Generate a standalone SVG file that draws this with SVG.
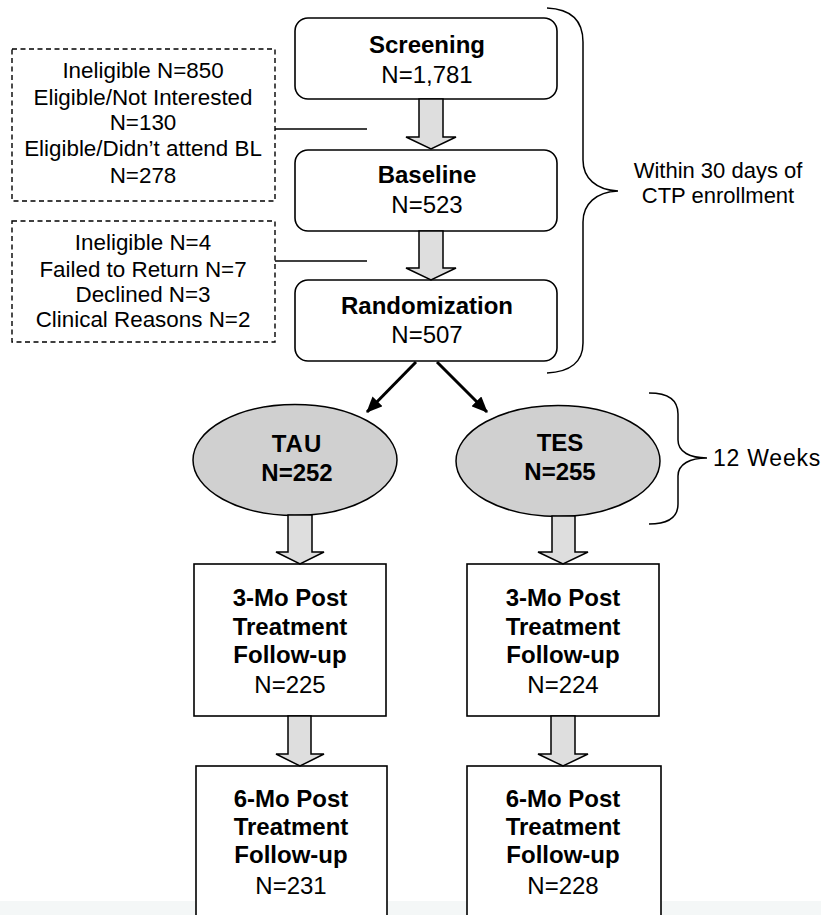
<svg xmlns="http://www.w3.org/2000/svg" width="821" height="915" viewBox="0 0 821 915">
<style>
.t{font-family:"Liberation Sans",Arial,sans-serif;fill:#000;text-anchor:middle}
.s{font-size:22.4px}
.n{font-size:24px}
.b{font-size:24px;font-weight:bold}
.box{fill:#fff;stroke:#000;stroke-width:1.6}
.dash{fill:#fff;stroke:#000;stroke-width:1.4;stroke-dasharray:5,3.5}
.ell{fill:#d0d0d0;stroke:#000;stroke-width:1.5}
.blk{fill:#dedede;stroke:#000;stroke-width:1.5;stroke-linejoin:miter}
.ln{fill:none;stroke:#000;stroke-width:1.5}
.arr{fill:none;stroke:#000;stroke-width:3}
</style>
<defs>
<marker id="ah" markerWidth="16" markerHeight="14" refX="15" refY="7" orient="auto" markerUnits="userSpaceOnUse">
<path d="M0,0 L16,7 L0,14 Z" fill="#000"/>
</marker>
</defs>
<rect x="0" y="0" width="821" height="915" fill="#fff"/>
<rect x="0" y="901" width="821" height="14" fill="#f4f7f7"/>

<g id="excl1">
<rect class="dash" x="12" y="49" width="263" height="152"/>
<text class="t s" x="143" y="78">Ineligible N=850</text>
<text class="t s" x="143" y="105">Eligible/Not Interested</text>
<text class="t s" x="143" y="130">N=130</text>
<text class="t s" x="143" y="156">Eligible/Didn’t attend BL</text>
<text class="t s" x="143" y="183">N=278</text>
</g>
<g id="excl2">
<rect class="dash" x="12" y="221" width="263" height="121"/>
<text class="t s" x="143" y="250">Ineligible N=4</text>
<text class="t s" x="143" y="277">Failed to Return N=7</text>
<text class="t s" x="143" y="302">Declined N=3</text>
<text class="t s" x="143" y="327">Clinical Reasons N=2</text>
</g>

<g id="screening">
<rect class="box" x="295" y="18" width="262" height="81" rx="13"/>
<text class="t b" x="427" y="53">Screening</text>
<text class="t n" x="427" y="83">N=1,781</text>
</g>
<g id="baseline">
<rect class="box" x="295" y="150" width="262" height="81" rx="13"/>
<text class="t b" x="427" y="183">Baseline</text>
<text class="t n" x="427" y="213">N=523</text>
</g>
<g id="randomization">
<rect class="box" x="295" y="280" width="262" height="81" rx="13"/>
<text class="t b" x="427" y="314">Randomization</text>
<text class="t n" x="427" y="343">N=507</text>
</g>

<g id="brace30">
<path class="ln" d="M547,8 C570,9 583,20 583,42 L583,160 C583,178 596,190 618,191 C596,192 583,204 583,222 L583,343 C583,362 570,372 547,373"/>
<text class="t" style="font-size:22px" x="718" y="178">Within 30 days of</text>
<text class="t" style="font-size:22px" x="718" y="203">CTP enrollment</text>
</g>

<g id="tau">
<ellipse class="ell" cx="295" cy="460" rx="102" ry="55.5"/>
<text class="t b" x="297" y="452" letter-spacing="1">TAU</text>
<text class="t b" x="297" y="481">N=252</text>
</g>
<g id="tes">
<ellipse class="ell" cx="558" cy="461" rx="102" ry="55.5"/>
<text class="t b" x="560" y="451">TES</text>
<text class="t b" x="560" y="480">N=255</text>
</g>

<g id="brace12">
<path class="ln" d="M649,393 C668,393 678,400 678,414 L678,440 C678,452 690,458 707,458 C690,458 678,464 678,476 L678,504 C678,517 668,524 649,524"/>
<text class="t" style="font-size:23px" letter-spacing="0.8" x="767" y="466">12 Weeks</text>
</g>

<g id="tau3">
<rect class="box" x="194" y="564" width="192" height="152"/>
<text class="t b" x="290" y="606">3-Mo Post</text>
<text class="t b" x="290" y="635">Treatment</text>
<text class="t b" x="290" y="663">Follow-up</text>
<text class="t n" x="290" y="693">N=225</text>
</g>
<g id="tes3">
<rect class="box" x="467" y="564" width="192" height="152"/>
<text class="t b" x="563" y="606">3-Mo Post</text>
<text class="t b" x="563" y="635">Treatment</text>
<text class="t b" x="563" y="663">Follow-up</text>
<text class="t n" x="563" y="693">N=224</text>
</g>
<g id="tau6">
<rect class="box" x="196" y="766" width="191" height="200"/>
<text class="t b" x="291" y="807">6-Mo Post</text>
<text class="t b" x="291" y="835">Treatment</text>
<text class="t b" x="291" y="863">Follow-up</text>
<text class="t n" x="291" y="894">N=231</text>
</g>
<g id="tes6">
<rect class="box" x="467" y="766" width="194" height="200"/>
<text class="t b" x="563" y="807">6-Mo Post</text>
<text class="t b" x="563" y="835">Treatment</text>
<text class="t b" x="563" y="863">Follow-up</text>
<text class="t n" x="563" y="894">N=228</text>
</g>

<g id="connectors">
<line class="ln" x1="275" y1="129" x2="367" y2="129"/>
<line class="ln" x1="275" y1="261" x2="367" y2="261"/>
<path class="blk" d="M419,99 L443,99 L443,137 L456,137 L431,149 L406,137 L419,137 Z"/>
<path class="blk" d="M419,231 L443,231 L443,268 L456,268 L431,280 L406,268 L419,268 Z"/>
<line class="arr" x1="416" y1="362" x2="367" y2="412" marker-end="url(#ah)"/>
<line class="arr" x1="437" y1="362" x2="487" y2="412" marker-end="url(#ah)"/>
<path class="blk" d="M288,515 L312,515 L312,552 L324,552 L300,564 L276,552 L288,552 Z"/>
<path class="blk" d="M552,516 L575,516 L575,552 L588,552 L563,564 L538,552 L552,552 Z"/>
<path class="blk" d="M288,716 L311,716 L311,754 L324,754 L300,766 L276,754 L288,754 Z"/>
<path class="blk" d="M551,716 L575,716 L575,754 L588,754 L563,766 L538,754 L551,754 Z"/>
</g>
</svg>
